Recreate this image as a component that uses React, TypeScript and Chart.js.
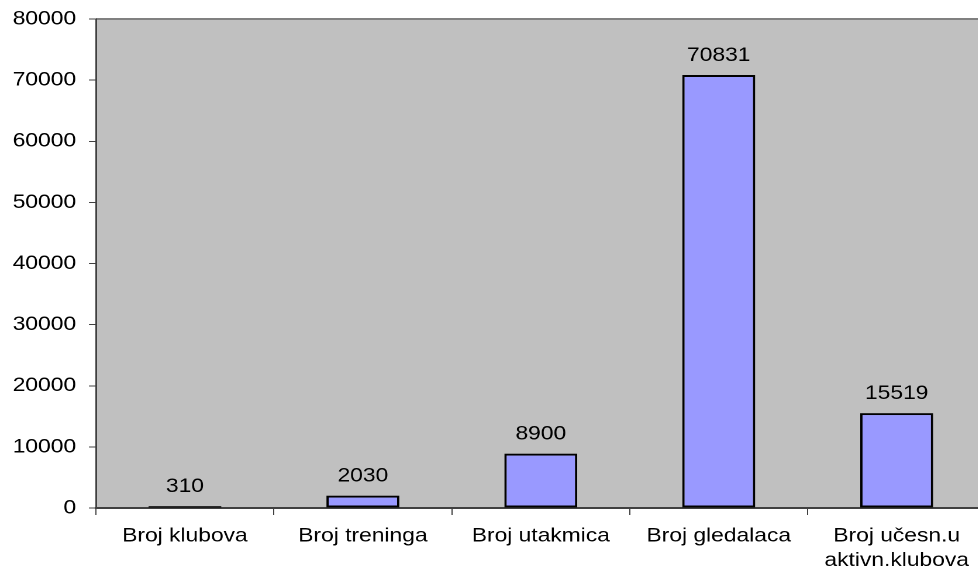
import React, { useEffect, useRef } from 'react';
import { Chart, registerables } from 'chart.js';

Chart.register(...registerables);

// ---- data ----
const categories: (string | string[])[] = [
  'Broj klubova',
  'Broj treninga',
  'Broj utakmica',
  'Broj gledalaca',
  ['Broj učesn.u', 'aktivn.klubova'],
];
const values: number[] = [310, 2030, 8900, 70831, 15519];
const yMin = 0;
const yMax = 80000;
const yStep = 10000;

// ---- layout (CSS px) ----
const S = 1.17; // horizontal stretch of the rendered canvas
const VIEW_W = 978;
const VIEW_H = 569;
const PLOT_LEFT = 96;
const PLOT_RIGHT = 986;
const PLOT_TOP = 19;
const PLOT_BOTTOM = 508;
const LOGICAL_W = Math.ceil(1000 / S);
const FONT = { family: "'Liberation Sans', Arial, sans-serif", size: 19.5 };

const plotBg = {
  id: 'plotBg',
  beforeDraw(chart: any) {
    const { ctx, chartArea } = chart;
    ctx.save();
    ctx.fillStyle = '#c0c0c0';
    ctx.fillRect(chartArea.left, chartArea.top, chartArea.right - chartArea.left, chartArea.bottom - chartArea.top);
    ctx.strokeStyle = '#808080';
    ctx.lineWidth = 2;
    ctx.beginPath();
    ctx.moveTo(chartArea.left, chartArea.top);
    ctx.lineTo(chartArea.right, chartArea.top);
    ctx.stroke();
    ctx.restore();
  },
};

const valueLabels = {
  id: 'valueLabels',
  afterDatasetsDraw(chart: any) {
    const { ctx } = chart;
    const meta = chart.getDatasetMeta(0);
    const data = chart.data.datasets[0].data as number[];
    ctx.save();
    ctx.fillStyle = '#000';
    ctx.font = `${FONT.size}px ${FONT.family}`;
    ctx.textAlign = 'center';
    ctx.textBaseline = 'alphabetic';
    meta.data.forEach((bar: any, i: number) => {
      ctx.fillText(String(data[i]), bar.x, bar.y - 14);
    });
    ctx.restore();
  },
};

export default function App() {
  const ref = useRef<HTMLCanvasElement | null>(null);

  useEffect(() => {
    if (!ref.current) return;
    const chart = new Chart(ref.current, {
      type: 'bar',
      data: {
        labels: categories as any,
        datasets: [
          {
            data: values,
            backgroundColor: '#9999ff',
            borderColor: '#000000',
            borderWidth: 2,
            borderSkipped: false,
            categoryPercentage: 1,
            barPercentage: 0.41,
          },
        ],
      },
      plugins: [plotBg, valueLabels],
      options: {
        responsive: false,
        animation: false,
        devicePixelRatio: 2,
        layout: {
          padding: {
            left: 0,
            top: PLOT_TOP,
            right: LOGICAL_W - PLOT_RIGHT / S,
            bottom: 0,
          },
        },
        plugins: {
          legend: { display: false },
          tooltip: { enabled: false },
        },
        scales: {
          x: {
            type: 'category',
            offset: true,
            afterFit(scale: any) {
              scale.height = VIEW_H - PLOT_BOTTOM;
              scale.paddingLeft = 0;
              scale.paddingRight = 0;
            },
            grid: {
              offset: true,
              drawOnChartArea: false,
              drawTicks: true,
              tickLength: 7,
              color: '#404040',
              lineWidth: 1,
            },
            border: { display: true, color: '#404040', width: 2 },
            ticks: {
              color: '#000',
              font: { ...FONT, lineHeight: 1.25 },
              padding: 9,
              maxRotation: 0,
              autoSkip: false,
            },
          },
          y: {
            min: yMin,
            max: yMax,
            afterFit(scale: any) {
              scale.width = PLOT_LEFT / S;
              scale.paddingTop = 0;
              scale.paddingBottom = 0;
            },
            grid: {
              drawOnChartArea: false,
              drawTicks: true,
              tickLength: 6,
              color: '#404040',
              lineWidth: 1,
            },
            border: { display: true, color: '#404040', width: 1.5 },
            ticks: {
              stepSize: yStep,
              color: '#000',
              font: FONT,
              padding: 11,
              callback: (v: any) => String(v),
            },
          },
        },
      },
    } as any);
    return () => chart.destroy();
  }, []);

  return (
    <div
      style={{
        position: 'fixed',
        left: 0,
        top: 0,
        width: VIEW_W,
        height: VIEW_H,
        overflow: 'hidden',
        background: '#fff',
      }}
    >
      <canvas
        ref={ref}
        width={LOGICAL_W}
        height={VIEW_H}
        style={{ width: `${LOGICAL_W * S}px`, height: `${VIEW_H}px`, display: 'block' }}
      />
    </div>
  );
}
